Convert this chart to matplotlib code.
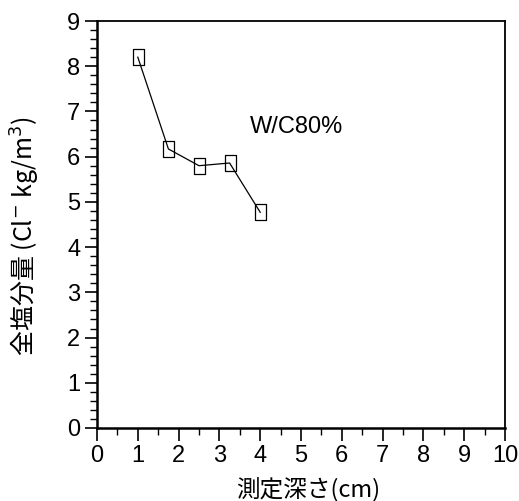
import matplotlib
matplotlib.use("Agg")
import matplotlib.pyplot as plt
from matplotlib.ticker import MultipleLocator

plt.rcParams["font.family"] = ["Liberation Sans", "Noto Sans CJK JP", "DejaVu Sans"]

# measured depth (cm) vs total chloride content (kg/m3)
depth = [1.0, 1.75, 2.5, 3.25, 4.0]
chloride = [8.2, 6.17, 5.8, 5.86, 4.77]
series_label = "W/C80%"

# the original squares are a bit taller than wide
rect_marker = [(-0.72, -1), (0.72, -1), (0.72, 1), (-0.72, 1), (-0.72, -1)]

fig = plt.figure(figsize=(5.19, 5.01), dpi=100)
ax = fig.add_axes([97 / 519, 1 - 428 / 501, 408 / 519, 407 / 501])

ax.plot(depth, chloride, color="black", lw=0.9, marker=rect_marker, markersize=11,
        markerfacecolor="none", markeredgecolor="black", markeredgewidth=0.9)
ax.text(3.75, 6.66, series_label, fontsize=17, va="center", ha="left")

ax.set_xlim(0, 10)
ax.set_ylim(0, 9)
ax.xaxis.set_major_locator(MultipleLocator(1))
ax.xaxis.set_minor_locator(MultipleLocator(0.5))
ax.yaxis.set_major_locator(MultipleLocator(1))
ax.yaxis.set_minor_locator(MultipleLocator(0.2))
ax.tick_params(which="major", direction="out", length=9, width=1.2, labelsize=17, pad=3)
ax.tick_params(which="minor", direction="out", length=5, width=1.0)

for side in ["left", "bottom"]:
    ax.spines[side].set_linewidth(1.8)
for side in ["top", "right"]:
    ax.spines[side].set_linewidth(1.3)

cjk = ["Noto Sans CJK JP", "DejaVu Sans"]
ax.set_xlabel("測定深さ(cm)", fontsize=17, family=cjk, va="center")
ax.set_ylabel("全塩分量 (Cl$^{-}$ kg/m$^3$)", fontsize=18, family=cjk, va="center")
ax.xaxis.set_label_coords(0.517, -0.152)
ax.yaxis.set_label_coords(-0.176, 0.472)

fig.savefig("out.png", dpi=100)
